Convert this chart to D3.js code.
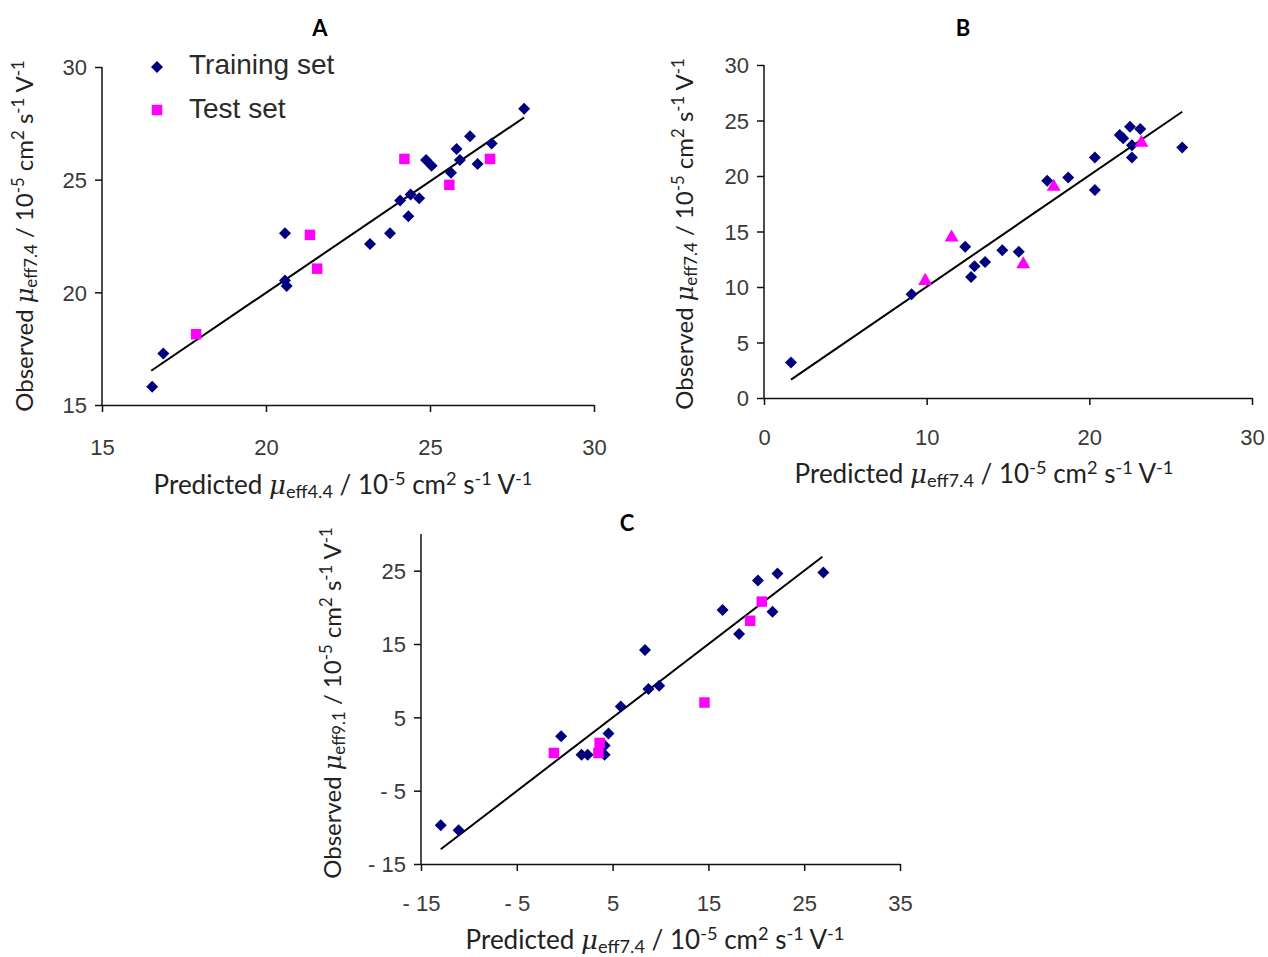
<!DOCTYPE html>
<html>
<head>
<meta charset="utf-8">
<script src="https://cdn.jsdelivr.net/npm/d3@7"></script>
<style>
  html, body { margin: 0; padding: 0; background: #ffffff; }
  svg { display: block; }
</style>
</head>
<body>
<svg id="chart" width="1268" height="957"></svg>
<script>
// ---------------- DATA ----------------
// Panel A
const trainA_x = [16.53, 16.87, 20.58, 20.58, 20.63, 23.17, 23.78, 24.09, 24.34, 24.41, 24.67, 24.88, 25.05, 25.64, 25.81, 25.91, 26.22, 26.45, 26.88, 27.87];
const trainA_y = [15.81, 17.29, 22.62, 20.53, 20.28, 22.15, 22.62, 24.07, 23.38, 24.34, 24.17, 25.87, 25.62, 25.31, 26.36, 25.87, 26.93, 25.69, 26.61, 28.15];
const testA_x  = [17.87, 21.34, 21.56, 24.22, 25.59, 26.83];
const testA_y  = [18.14, 22.55, 21.05, 25.92, 24.77, 25.92];
const fitA_x   = [16.5, 27.87];
const fitA_y   = [16.52, 27.76];
const ticksA_x = [15, 20, 25, 30];
const ticksA_y = [15, 20, 25, 30];

// Panel B
const trainB_x = [1.66, 9.07, 12.37, 12.73, 12.94, 13.59, 14.65, 15.66, 17.41, 18.70, 20.34, 20.34, 21.87, 22.08, 22.50, 22.62, 22.62, 23.13, 25.71];
const trainB_y = [3.19, 9.35, 13.62, 10.91, 11.87, 12.26, 13.32, 13.17, 19.57, 19.87, 21.67, 18.73, 23.69, 23.39, 24.44, 22.78, 21.67, 24.23, 22.57];
const testB_x  = [9.91, 11.53, 15.94, 17.81, 23.20];
const testB_y  = [10.55, 14.46, 12.05, 19.03, 22.99];
const fitB_x   = [1.66, 25.71];
const fitB_y   = [1.65, 25.79];
const ticksB_x = [0, 10, 20, 30];
const ticksB_y = [0, 5, 10, 15, 20, 25, 30];

// Panel C
const trainC_x = [-12.94, -11.07, -0.37, 1.76, 2.40, 4.17, 4.17, 4.57, 5.85, 8.38, 8.74, 9.86, 16.48, 18.20, 20.17, 21.69, 22.21, 27.0];
const trainC_y = [-9.7, -10.4, 2.43, -0.09, -0.09, -0.09, 1.15, 2.80, 6.47, 14.17, 8.85, 9.31, 19.63, 16.38, 23.67, 19.40, 24.63, 24.75];
const testC_x  = [-1.13, 3.52, 3.65, 14.59, 19.36, 20.57];
const testC_y  = [0.14, 0.14, 1.51, 7.02, 18.17, 20.78];
const fitC_x   = [-12.94, 26.9];
const fitC_y   = [-12.99, 26.9];
const ticksC_x = [-15, -5, 5, 15, 25, 35];
const ticksC_y = [-15, -5, 5, 15, 25];

const legendLabels = ["Training set", "Test set"];
const titles = ["A", "B", "C"];

// ---------------- DRAWING ----------------
const svg = d3.select("#chart");
const NAVY = "#00007f", MAG = "#ff00ff";
const tickFont = "'Liberation Sans', Arial, sans-serif";
const labelFont = "'Lato', 'Open Sans', sans-serif";
const fmt = d => (d < 0 ? "- " + Math.abs(d) : String(d));

function zip(xs, ys) { return xs.map((x, i) => ({x: x, y: ys[i]})); }

function unitLabel(sel, pre, sub, fs) {
  const s = fs * 0.7;
  sel.append("tspan").text(pre);
  sel.append("tspan").attr("font-family", "'DejaVu Serif', serif").attr("font-style", "italic").text("\u03BC");
  sel.append("tspan").attr("font-size", s).attr("dy", 4).text(sub);
  sel.append("tspan").attr("dy", -4).text(" / 10");
  sel.append("tspan").attr("font-size", s).attr("dy", -9).text("-5");
  sel.append("tspan").attr("dy", 9).text(" cm");
  sel.append("tspan").attr("font-size", s).attr("dy", -9).text("2");
  sel.append("tspan").attr("dy", 9).text(" s");
  sel.append("tspan").attr("font-size", s).attr("dy", -9).text("-1");
  sel.append("tspan").attr("dy", 9).text(" V");
  sel.append("tspan").attr("font-size", s).attr("dy", -9).text("-1");
}

function drawPanel(p) {
  const g = svg.append("g");
  const x = d3.scaleLinear().domain(p.xDomain).range([p.left, p.right]);
  const y = d3.scaleLinear().domain(p.yDomain).range([p.bottom, p.top]);

  const xAxis = d3.axisBottom(x).tickValues(p.xTicks).tickSize(7).tickSizeOuter(0).tickPadding(p.xPad).tickFormat(fmt);
  const yAxis = d3.axisLeft(y).tickValues(p.yTicks).tickSize(7).tickSizeOuter(0).tickPadding(8).tickFormat(fmt);
  const gx = g.append("g").attr("transform", `translate(0,${p.bottom})`).call(xAxis);
  const gy = g.append("g").attr("transform", `translate(${p.left},0)`).call(yAxis);
  [gx, gy].forEach(a => {
    a.select(".domain").attr("stroke", "#111").attr("stroke-width", 1.5);
    a.selectAll(".tick line").attr("stroke", "#111").attr("stroke-width", 1.5);
    a.selectAll(".tick text").attr("font-family", tickFont).attr("font-size", 22).attr("fill", "#3a3a3a");
  });
  gy.selectAll(".tick text").attr("dy", "0.36em");
  gy.select(".domain").attr("d", `M0,${p.bottom}V${y(p.yDomain[1])}`);

  const line = d3.line().x(d => x(d.x)).y(d => y(d.y));
  g.append("path").datum(zip(p.fitX, p.fitY)).attr("d", line)
    .attr("stroke", "#000").attr("stroke-width", 2).attr("fill", "none");

  const diamond = d3.symbol().type(d3.symbolSquare).size(72);
  g.selectAll(".tr").data(zip(p.trX, p.trY)).join("path")
    .attr("d", diamond)
    .attr("transform", d => `translate(${x(d.x)},${y(d.y)}) rotate(45)`)
    .attr("fill", NAVY);

  if (p.testShape === "triangle") {
    const tri = d3.symbol().type(d3.symbolTriangle).size(85);
    g.selectAll(".te").data(zip(p.teX, p.teY)).join("path")
      .attr("d", tri)
      .attr("transform", d => `translate(${x(d.x)},${y(d.y)})`)
      .attr("fill", MAG);
  } else {
    const sq = d3.symbol().type(d3.symbolSquare).size(110);
    g.selectAll(".te").data(zip(p.teX, p.teY)).join("path")
      .attr("d", sq)
      .attr("transform", d => `translate(${x(d.x)},${y(d.y)})`)
      .attr("fill", MAG);
  }

  g.append("text").attr("x", p.titleX).attr("y", p.titleY)
    .attr("text-anchor", "middle").attr("font-family", labelFont)
    .attr("font-weight", "bold").attr("font-size", 22).text(p.title);

  const xl = g.append("text").attr("x", p.xLabelX).attr("y", p.xLabelY)
    .attr("text-anchor", "middle").attr("font-family", labelFont).attr("font-size", 26)
    .attr("fill", "#222");
  unitLabel(xl, "Predicted ", p.xSub, 26);

  const yl = g.append("text")
    .attr("transform", `translate(${p.yLabelX},${p.yLabelY}) rotate(-90)`)
    .attr("text-anchor", "middle").attr("font-family", labelFont).attr("font-size", 24)
    .attr("fill", "#222");
  unitLabel(yl, "Observed ", p.ySub, 24);

  return {x, y, g};
}

drawPanel({
  xDomain: [15, 30], yDomain: [15, 30], left: 102, right: 594, top: 67, bottom: 405,
  xTicks: ticksA_x, yTicks: ticksA_y, xPad: 27,
  trX: trainA_x, trY: trainA_y, teX: testA_x, teY: testA_y, fitX: fitA_x, fitY: fitA_y,
  testShape: "square", title: titles[0], titleX: 320, titleY: 36,
  xLabelX: 343, xLabelY: 494, xSub: "eff4.4",
  yLabelX: 33, yLabelY: 236, ySub: "eff7.4"
});

drawPanel({
  xDomain: [0, 30], yDomain: [0, 30], left: 764, right: 1252, top: 65, bottom: 398,
  xTicks: ticksB_x, yTicks: ticksB_y, xPad: 24,
  trX: trainB_x, trY: trainB_y, teX: testB_x, teY: testB_y, fitX: fitB_x, fitY: fitB_y,
  testShape: "triangle", title: titles[1], titleX: 963, titleY: 36,
  xLabelX: 984, xLabelY: 483, xSub: "eff7.4",
  yLabelX: 693, yLabelY: 234, ySub: "eff7.4"
});

drawPanel({
  xDomain: [-15, 35], yDomain: [-15, 30], left: 421, right: 900, top: 534, bottom: 864,
  xTicks: ticksC_x, yTicks: ticksC_y, xPad: 24,
  trX: trainC_x, trY: trainC_y, teX: testC_x, teY: testC_y, fitX: fitC_x, fitY: fitC_y,
  testShape: "square", title: titles[2], titleX: 627, titleY: 531,
  xLabelX: 655, xLabelY: 949, xSub: "eff7.4",
  yLabelX: 341, yLabelY: 703, ySub: "eff9.1"
});

// Legend (panel A)
const lg = svg.append("g");
const legY = d3.scalePoint().domain(legendLabels).range([64, 108]);
lg.append("path").attr("d", d3.symbol().type(d3.symbolSquare).size(72)())
  .attr("transform", `translate(157,${legY(legendLabels[0]) + 3}) rotate(45)`).attr("fill", NAVY);
lg.append("path").attr("d", d3.symbol().type(d3.symbolSquare).size(110)())
  .attr("transform", `translate(157,${legY(legendLabels[1]) + 2})`).attr("fill", MAG);
lg.selectAll("text").data(legendLabels).join("text")
  .attr("x", 189).attr("y", d => legY(d)).attr("dy", "0.36em")
  .attr("font-family", tickFont).attr("font-size", 28).attr("fill", "#2a2a2a")
  .text(d => d);
</script>
</body>
</html>
